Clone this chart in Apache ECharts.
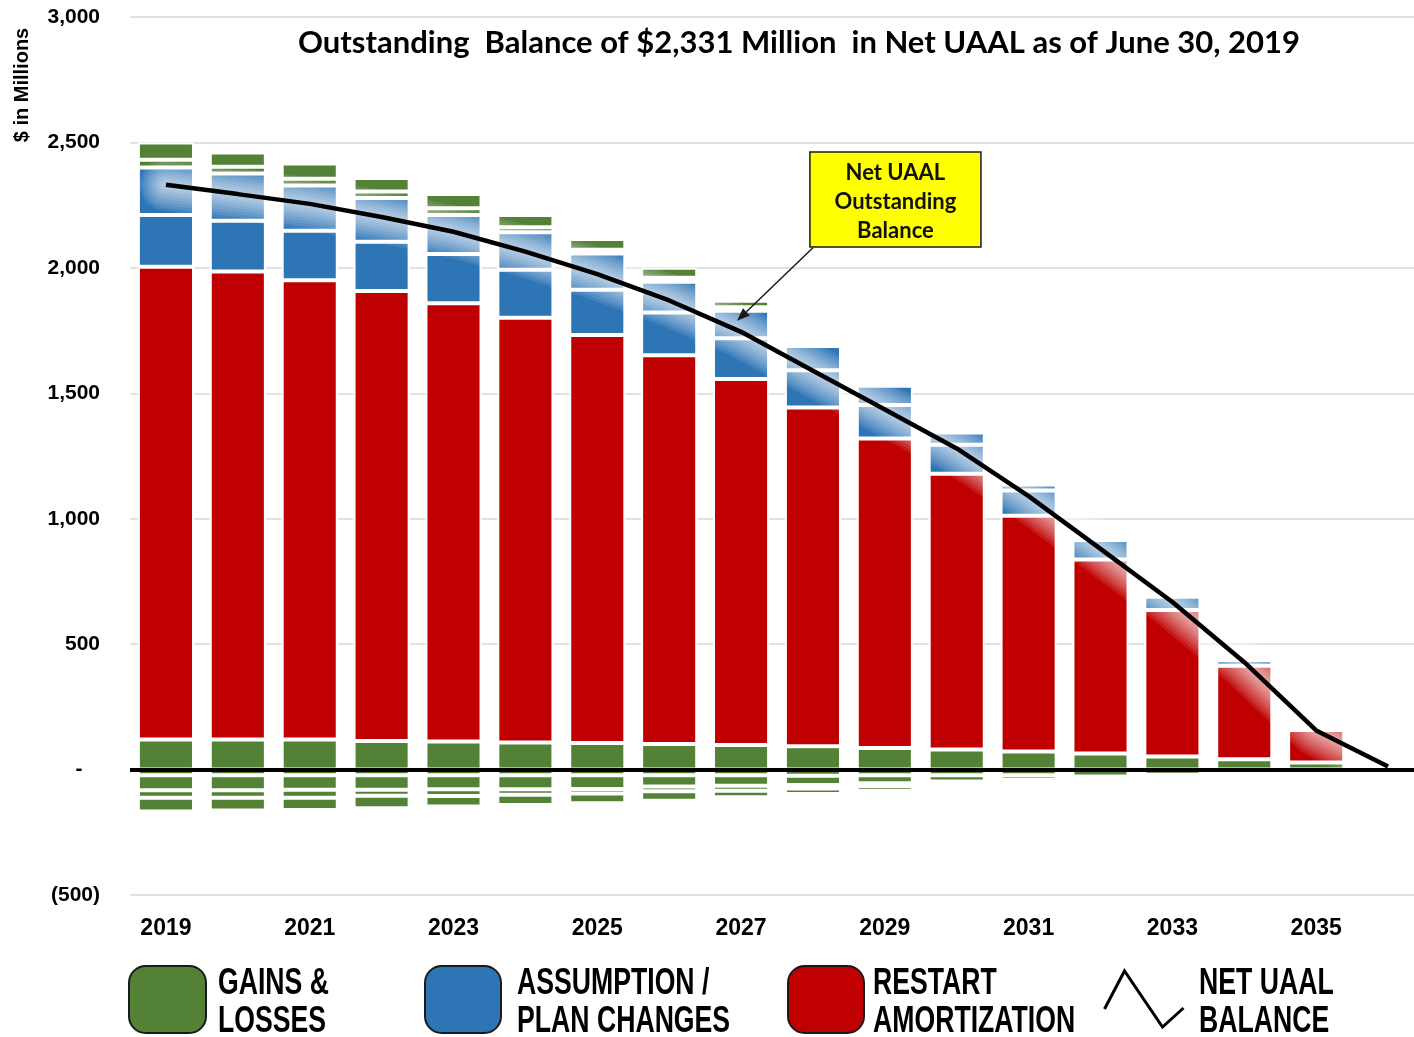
<!DOCTYPE html>
<html>
<head>
<meta charset="utf-8">
<script src="https://cdn.jsdelivr.net/npm/echarts@6/dist/echarts.min.js"></script>
<style>
  html, body { margin: 0; padding: 0; background: #fff; }
  #chart { width: 1414px; height: 1037px; }
</style>
</head>
<body>
<div id="chart"></div>
<script>
// Plan years (amortization schedule)
const years = ['2019','2020','2021','2022','2023','2024','2025','2026','2027','2028',
               '2029','2030','2031','2032','2033','2034','2035','2036'];

// Gains & losses, positive base layer ($ millions)
const gainsBase = [120,120,120,114,112,108,106,102,98,93,86,80,72,64,52,41,28,0];
// Restart amortization layer
const restartAmort = [1884,1865,1831,1794,1747,1693,1626,1550,1459,1350,1234,1099,940,773,584,373,130,0];
// Assumption / plan change layers
const assumptionLower = [207,203,197,196,196,191,181,170,162,149,133,116,100,78,53,23,0,0];
const assumptionUpper = [189,188,180,174,156,150,144,123,110,96,77,49,24,0,0,0,0,0];
// Gains & losses, positive upper layers
const gainsUpperA = [31,27,27,26,27,20,15,16,14,12,9,0,0,0,0,0,0,0];
const gainsUpperB = [69,57,61,54,56,49,43,39,26,13,8,0,0,0,0,0,0,0];
// Gains & losses, negative layers
const lossesA = [-23,-23,-23,-23,-23,-23,-23,-23,-23,-25,-23,-23,-23,-28,-21,0,0,0];
const lossesB = [-59,-59,-57,-57,-55,-55,-54,-44,-41,-37,-32,-25,-18,0,0,0,0,0];
const lossesC = [-30,-30,-32,-24,-27,-22,-18,-19,-20,-13,-10,-10,0,0,0,0,0,0];
const lossesD = [-55,-51,-49,-50,-42,-41,-39,-38,-26,-22,-19,-15,0,0,0,0,0,0];
// Net UAAL outstanding balance
const netBalance = [2331,2294,2255,2203,2144,2065,1975,1870,1745,1590,1435,1280,1090,880,668,428,156,12];

// Y axis ticks
const yTicks = { min: -500, max: 3000, step: 500 };

// Legend entries: series name and the two-line caption drawn beside each key
const N_GAINS = 'GAINS & LOSSES';
const N_ASSUMP = 'ASSUMPTION / PLAN CHANGES';
const N_RESTART = 'RESTART AMORTIZATION';
const N_NET = 'NET UAAL BALANCE';
const legendCaptions = [
  ['GAINS &', 'LOSSES'],
  ['ASSUMPTION /', 'PLAN CHANGES'],
  ['RESTART', 'AMORTIZATION'],
  ['NET UAAL', 'BALANCE']
];

const SANS = '"Liberation Sans", Arial, sans-serif';
const CALIBRI = 'Lato, "Open Sans", sans-serif';
const GREEN = '#538135', BLUE = '#2E75B6', RED = '#C00000';

function barSeries(name, values, color) {
  return {
    name: name,
    type: 'bar',
    stack: 'total',
    barWidth: '78%',
    data: values.map(v => (v === 0 ? '-' : v)),
    itemStyle: { color: color, borderColor: '#ffffff', borderWidth: 2 },
    emphasis: { disabled: true }
  };
}

// soft white glow under the balance curve, built from nested translucent strokes
const haloWidths = [52, 46, 40, 34, 28, 23, 18, 13, 9];
function haloSeries(width) {
  return {
    name: 'halo' + width,
    type: 'line',
    data: netBalance,
    symbol: 'none',
    silent: true,
    lineStyle: { color: 'rgba(255,255,255,0.1)', width: width, cap: 'round', join: 'round' },
    emphasis: { disabled: true }
  };
}

function fmtNum(v) {
  return Math.abs(v).toLocaleString('en-US');
}

const chart = echarts.init(document.getElementById('chart'), null, { renderer: 'canvas' });

function legendKey(name, left, top, w, h, extra) {
  return Object.assign({
    data: [name],
    left: left,
    top: top,
    padding: 0,
    itemWidth: w,
    itemHeight: h,
    selectedMode: false,
    formatter: () => '',
    itemStyle: { borderColor: '#1a1a1a', borderWidth: 2 },
    textStyle: { fontSize: 1 }
  }, extra || {});
}

const option = {
  animation: false,
  backgroundColor: '#ffffff',
  title: {
    text: 'Outstanding  Balance of $2,331 Million  in Net UAAL as of June 30, 2019',
    left: 794,
    textAlign: 'center',
    top: 22,
    textStyle: { fontFamily: CALIBRI, fontWeight: 700, fontSize: 31, color: '#000' }
  },
  grid: {
    left: 130, width: 1294, top: 17, bottom: 142,
    containLabel: false, outerBoundsMode: 'none'
  },
  xAxis: {
    type: 'category',
    data: years,
    axisLine: { show: false, onZero: false },
    axisTick: { show: false },
    splitLine: { show: false },
    axisLabel: {
      interval: 1,
      margin: 22,
      color: '#000',
      fontFamily: SANS,
      fontWeight: 'bold',
      fontSize: 23
    }
  },
  yAxis: {
    type: 'value',
    min: yTicks.min,
    max: yTicks.max,
    interval: yTicks.step,
    axisLine: { show: false },
    axisTick: { show: false },
    splitLine: { lineStyle: { color: '#d9d9d9', width: 1.5 } },
    axisLabel: {
      margin: 30,
      color: '#000',
      fontFamily: SANS,
      fontWeight: 'bold',
      fontSize: 21,
      formatter: function (v) {
        if (v === 0) return '-   ';
        if (v < 0) return '(' + fmtNum(v) + ')';
        return fmtNum(v);
      }
    }
  },
  legend: [
    legendKey(N_GAINS, 128, 965, 77, 67),
    legendKey(N_ASSUMP, 424, 965, 76, 67),
    legendKey(N_RESTART, 787, 965, 76, 67),
    legendKey(N_NET, 1103, 969, 79, 60, {
      data: [{
        name: N_NET,
        icon: 'path://M0,38 L20,0 L58,56 L79,37',
        itemStyle: { color: 'rgba(0,0,0,0)', borderColor: '#000', borderWidth: 3 }
      }],
      itemStyle: {}
    })
  ],
  series: [
    barSeries(N_GAINS, gainsBase, GREEN),
    barSeries(N_RESTART, restartAmort, RED),
    barSeries(N_ASSUMP, assumptionLower, BLUE),
    barSeries(N_ASSUMP, assumptionUpper, BLUE),
    barSeries(N_GAINS, gainsUpperA, GREEN),
    barSeries(N_GAINS, gainsUpperB, GREEN),
    barSeries(N_GAINS, lossesA, GREEN),
    barSeries(N_GAINS, lossesB, GREEN),
    barSeries(N_GAINS, lossesC, GREEN),
    barSeries(N_GAINS, lossesD, GREEN)
  ].concat(haloWidths.map(haloSeries)).concat([
    {
      name: N_NET,
      type: 'line',
      data: netBalance,
      symbol: 'none',
      lineStyle: { color: '#000', width: 4.5 },
      itemStyle: { color: '#000' },
      emphasis: { disabled: true },
      markLine: {
        silent: true,
        symbol: 'none',
        label: { show: false },
        lineStyle: { color: '#000', width: 4, type: 'solid' },
        data: [{ yAxis: 0 }]
      }
    }
  ])
};

chart.setOption(option);

// Callout box and arrow pointing at the balance curve
const toPx = (cat, val) => chart.convertToPixel({ gridIndex: 0 }, [years.indexOf(cat), val]);
const boxCorner = toPx('2028', 2462);
const tail = toPx('2028', 2080);
const tip = toPx('2027', 1789);
tip[0] -= 4;
const dx = tip[0] - tail[0], dy = tip[1] - tail[1];
const len = Math.sqrt(dx * dx + dy * dy);
const ux = dx / len, uy = dy / len;
const headLen = 13, headHalf = 5;
const baseX = tip[0] - ux * headLen, baseY = tip[1] - uy * headLen;

// Condensed captions beside the legend keys
const captionLeft = [218, 517, 873, 1199];
const captionGraphics = legendCaptions.map((lines, i) => ({
  type: 'text',
  x: captionLeft[i],
  y: 1003,
  scaleX: 0.72,
  style: {
    text: lines.join('\n'),
    fill: '#000',
    font: 'bold 37px ' + SANS,
    lineHeight: 38,
    align: 'left',
    verticalAlign: 'middle'
  }
}));

chart.setOption({
  graphic: [
    {
      type: 'text',
      x: 22,
      y: 85,
      rotation: Math.PI / 2,
      style: {
        text: '$ in Millions',
        fill: '#000',
        font: 'bold 20px ' + SANS,
        align: 'center',
        verticalAlign: 'middle'
      }
    },
    {
      type: 'rect',
      x: boxCorner[0] - 3,
      y: boxCorner[1],
      shape: { width: 171, height: 95 },
      style: { fill: '#ffff00', stroke: '#1a1a1a', lineWidth: 1.5 },
      z: 100
    },
    {
      type: 'text',
      x: boxCorner[0] - 3 + 85.5,
      y: boxCorner[1] + 50,
      style: {
        text: 'Net UAAL\nOutstanding\nBalance',
        fill: '#111',
        font: 'bold 22px ' + CALIBRI,
        lineHeight: 29,
        align: 'center',
        verticalAlign: 'middle'
      },
      z: 101
    },
    {
      type: 'line',
      shape: { x1: tail[0], y1: tail[1], x2: baseX, y2: baseY },
      style: { stroke: '#1a1a1a', lineWidth: 1.5 },
      z: 100
    },
    {
      type: 'polygon',
      shape: {
        points: [
          [tip[0], tip[1]],
          [baseX - uy * headHalf, baseY + ux * headHalf],
          [baseX + uy * headHalf, baseY - ux * headHalf]
        ]
      },
      style: { fill: '#1a1a1a' },
      z: 100
    }
  ].concat(captionGraphics)
});
</script>
</body>
</html>
